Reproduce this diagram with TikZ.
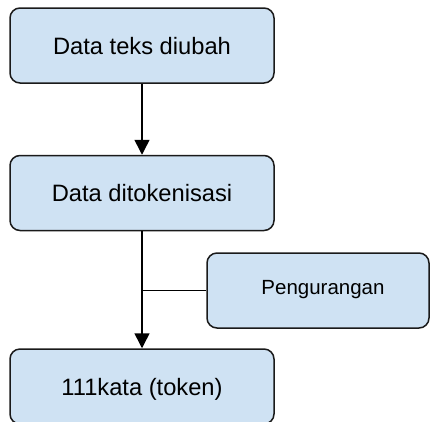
\documentclass[tikz,border=0pt]{standalone}
\usepackage{fontspec}
\setmainfont{Liberation Sans}
\usetikzlibrary{arrows.meta}
\definecolor{boxfill}{HTML}{CFE2F3}
\definecolor{boxline}{HTML}{1A1A1A}
\tikzset{
  stepbox/.style={draw=boxline, fill=boxfill, line width=1.5pt, rounded corners=10pt,
    minimum width=264pt, minimum height=75pt, inner sep=0pt,
    font=\fontsize{23.7}{28}\selectfont, text height=17pt, text depth=0pt},
  sidebox/.style={draw=boxline, fill=boxfill, line width=1.5pt, rounded corners=10pt,
    minimum width=222pt, minimum height=75pt, inner sep=0pt},
  flow/.style={line width=1.5pt, draw=black, -{Triangle[width=15pt,length=15pt]}},
  link/.style={line width=1.5pt, draw=black}
}
\begin{document}
\begin{tikzpicture}[x=1pt,y=-1pt]
  \useasboundingbox (0,0) rectangle (430,421);
  \clip (0,0) rectangle (430,421);
  \node[stepbox] (b1) at (142,45.5) {Data teks diubah};
  \node[stepbox] (b2) at (142,193) {Data ditokenisasi};
  \node[stepbox] (b3) at (142,386.5) {111kata (token)};
  \node[sidebox] (b4) at (318,290.5) {};
  \node[anchor=base, inner sep=0pt, font=\fontsize{20.5}{24}\selectfont] (t4) at (323,294) {Pengurangan};
  \coordinate (j) at (b2.south |- b4.west);
  \draw[flow] (b1) -- (b2);
  \draw[flow] (b2) -- (b3);
  \draw[link] (j) -- (b4.west);
\end{tikzpicture}
\end{document}
